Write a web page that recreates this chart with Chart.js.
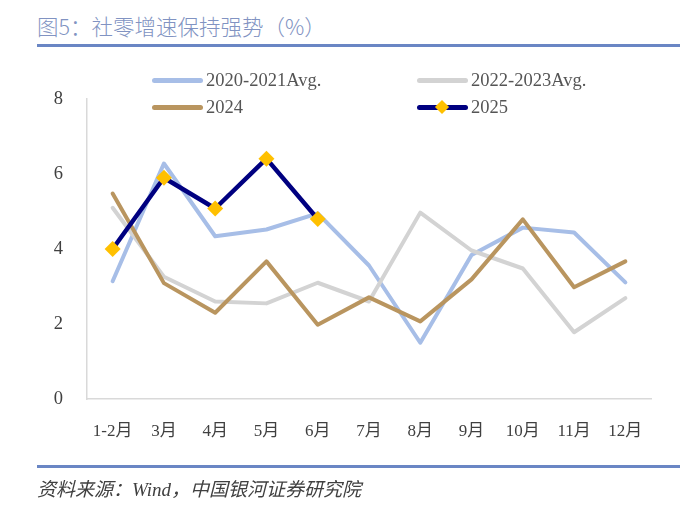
<!DOCTYPE html>
<html>
<head>
<meta charset="utf-8">
<script src="https://cdn.jsdelivr.net/npm/chart.js@4"></script>
<style>
  html, body { margin: 0; padding: 0; background: #fff; }
  #wrap { position: relative; width: 700px; height: 513px; overflow: hidden; }
  #chart { position: absolute; left: 0; top: 0; }
  .title { position: absolute; left: 37px; top: 10px; font-family: "Noto Sans CJK SC", sans-serif; font-weight: 300; font-size: 21.5px; color: #8193c2; white-space: nowrap; }
  .rule { position: absolute; left: 37px; width: 643px; height: 3px; background: #6a86c4; }
  .source { position: absolute; left: 37px; top: 474px; font-family: "Liberation Serif", "Noto Sans CJK SC", serif; font-style: italic; font-size: 19px; color: #404040; white-space: nowrap; }
  .lg { position: absolute; height: 20px; font-family: "Liberation Serif", serif; font-size: 18.5px; color: #555; white-space: nowrap; display: flex; align-items: center; }
  .lg .sw { position: relative; width: 51px; height: 5px; border-radius: 3px; margin-right: 3px; }
  .lg .dm { position: absolute; left: 20px; top: -3px; width: 10px; height: 10px; background: #FFC000; transform: rotate(45deg); }
</style>
</head>
<body>
<div id="wrap">
  <div class="title">图5：社零增速保持强势（%）</div>
  <div class="rule" style="top:44px"></div>
  <canvas id="chart" width="700" height="513"></canvas>
  <div id="legend"></div>
  <div class="rule" style="top:465px"></div>
  <div class="source">资料来源：Wind，中国银河证券研究院</div>
</div>
<script>
const categories = ["1-2月","3月","4月","5月","6月","7月","8月","9月","10月","11月","12月"];
const seriesNames = ["2020-2021Avg.","2022-2023Avg.","2024","2025"];
const avg2020_2021 = [3.14, 6.28, 4.34, 4.52, 4.95, 3.56, 1.5, 3.84, 4.57, 4.44, 3.11];
const avg2022_2023 = [5.1, 3.26, 2.6, 2.55, 3.1, 2.6, 4.97, 3.96, 3.48, 1.78, 2.69];
const y2024 = [5.48, 3.09, 2.3, 3.67, 1.98, 2.71, 2.07, 3.19, 4.79, 2.98, 3.67];
const y2025 = [4.0, 5.9, 5.08, 6.41, 4.8, null, null, null, null, null, null];
const yTicks = [0, 2, 4, 6, 8];

const colors = ["#a7bee7", "#d3d3d3", "#b9955f", "#000080"];
const markerColor = "#FFC000";
const dataArrays = [avg2020_2021, avg2022_2023, y2024, y2025];

const datasets = dataArrays.map((d, i) => ({
  label: seriesNames[i],
  data: d,
  borderColor: colors[i],
  backgroundColor: colors[i],
  borderWidth: i === 3 ? 4.5 : 4,
  borderJoinStyle: 'round',
  borderCapStyle: 'round',
  tension: 0,
  pointRadius: i === 3 ? 8 : 0,
  pointHoverRadius: i === 3 ? 8 : 0,
  pointStyle: 'rectRot',
  pointBackgroundColor: markerColor,
  pointBorderColor: markerColor,
  pointBorderWidth: 0,
  spanGaps: false,
  order: 4 - i
}));

// HTML legend (2 x 2 grid)
const legendPos = [[152, 70], [417, 70], [152, 97], [417, 97]];
const lg = document.getElementById('legend');
seriesNames.forEach((n, i) => {
  const el = document.createElement('div');
  el.className = 'lg';
  el.style.left = legendPos[i][0] + 'px';
  el.style.top = legendPos[i][1] + 'px';
  const sw = document.createElement('span');
  sw.className = 'sw';
  sw.style.background = colors[i];
  if (i === 3) { const dm = document.createElement('span'); dm.className = 'dm'; sw.appendChild(dm); }
  el.appendChild(sw);
  el.appendChild(document.createTextNode(n));
  lg.appendChild(el);
});

const xFont = { family: "'Liberation Serif', 'Noto Sans CJK SC', serif", size: 17 };
const yFont = { family: "'Liberation Serif', 'Noto Sans CJK SC', serif", size: 18.5 };

new Chart(document.getElementById('chart'), {
  type: 'line',
  data: { labels: categories, datasets },
  options: {
    responsive: false,
    animation: false,
    devicePixelRatio: 1,
    layout: { padding: { top: 99, right: 49, bottom: 64, left: 0 } },
    plugins: { legend: { display: false }, tooltip: { enabled: false } },
    scales: {
      x: {
        offset: true,
        grid: { display: false, drawTicks: false },
        border: { display: true, color: '#d9d9d9', width: 1.5 },
        ticks: { font: xFont, color: '#404040', padding: 22, maxRotation: 0, autoSkip: false },
        afterFit: s => { s.height = 50; }
      },
      y: {
        min: yTicks[0],
        max: yTicks[yTicks.length - 1],
        afterBuildTicks: s => { s.ticks = yTicks.map(v => ({ value: v })); },
        grid: { display: false, drawTicks: false },
        border: { display: true, color: '#d9d9d9', width: 1.5 },
        ticks: { font: yFont, color: '#404040', padding: 24 },
        afterFit: s => { s.width = 87; }
      }
    }
  }
});
</script>
</body>
</html>
